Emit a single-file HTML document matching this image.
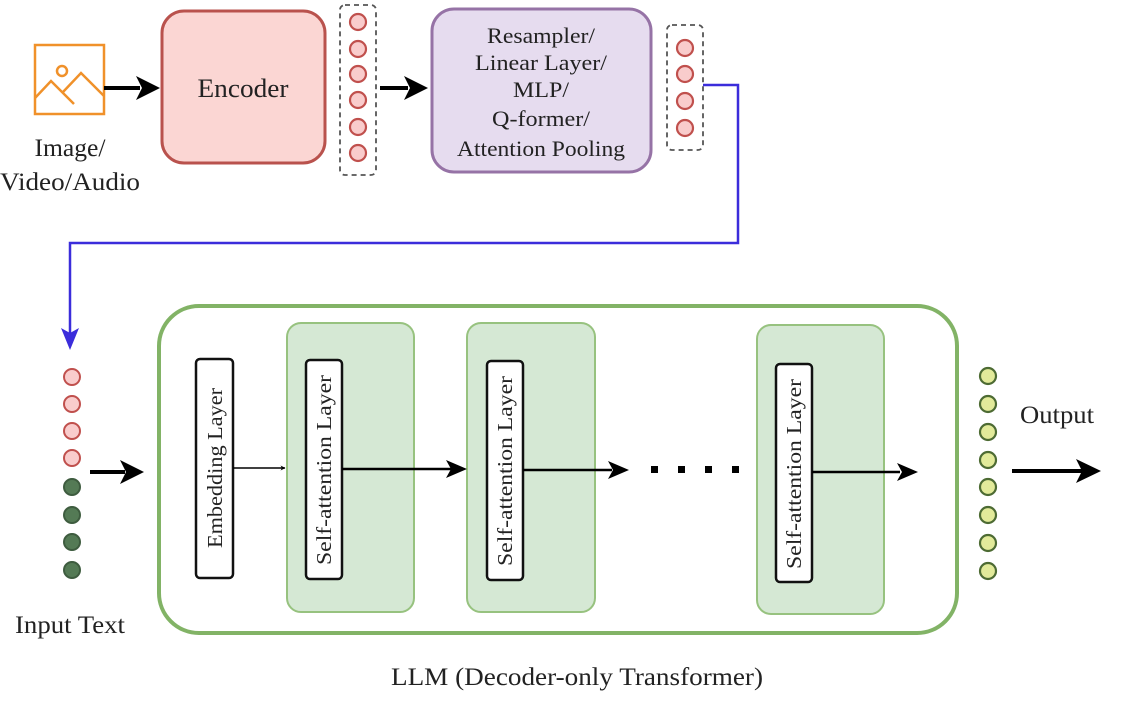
<!DOCTYPE html>
<html><head><meta charset="utf-8"><style>
html,body{margin:0;padding:0;background:#fff;}
svg{display:block;}
text{font-family:"Liberation Serif",serif;fill:#222;}
</style></head><body>
<svg width="1136" height="708" viewBox="0 0 1136 708" xmlns="http://www.w3.org/2000/svg">
<defs>
<marker id="ah" viewBox="0 0 10 10" refX="9" refY="5" markerWidth="5" markerHeight="5" orient="auto" markerUnits="userSpaceOnUse"><path d="M0,0 L10,5 L0,10 L3,5 z" fill="#000"/></marker>
</defs>
<g stroke="#f0912a" stroke-width="2.5" fill="none">
<rect x="35" y="45" width="69" height="69"/>
<circle cx="62" cy="71" r="5"/>
<polyline points="35,98 51,81 74,104"/>
<polyline points="63,92 81,73 104,96"/>
</g>
<text x="70" y="156" font-size="25" text-anchor="middle" textLength="71" lengthAdjust="spacingAndGlyphs">Image/</text>
<text x="70" y="190" font-size="25" text-anchor="middle" textLength="140" lengthAdjust="spacingAndGlyphs">Video/Audio</text>
<line x1="104" y1="88" x2="140" y2="88" stroke="#000" stroke-width="4"/>
<path d="M136,76 L160,88 L136,100 L142,88 z" fill="#000"/>
<rect x="162" y="11" width="163" height="152" rx="22" fill="#fbd6d3" stroke="#b9524d" stroke-width="3"/>
<text x="243" y="97" font-size="26" text-anchor="middle" textLength="91" lengthAdjust="spacingAndGlyphs">Encoder</text>
<rect x="340" y="5" width="36" height="170" rx="5" fill="none" stroke="#555" stroke-width="1.8" stroke-dasharray="5,4"/>
<g fill="#f9cccc" stroke="#c0504d" stroke-width="2.2">
<circle cx="358" cy="22" r="8"/><circle cx="358" cy="49" r="8"/><circle cx="358" cy="74" r="8"/><circle cx="358" cy="100" r="8"/><circle cx="358" cy="127" r="8"/><circle cx="358" cy="153" r="8"/>
</g>
<line x1="380" y1="88" x2="408" y2="88" stroke="#000" stroke-width="4"/>
<path d="M404,76 L428,88 L404,100 L410,88 z" fill="#000"/>
<rect x="432" y="9" width="219" height="163" rx="22" fill="#e6dcef" stroke="#9673a6" stroke-width="3"/>
<g font-size="22" text-anchor="middle">
<text x="541" y="43" textLength="108" lengthAdjust="spacingAndGlyphs">Resampler/</text>
<text x="541" y="70" textLength="132" lengthAdjust="spacingAndGlyphs">Linear Layer/</text>
<text x="541" y="97" textLength="56" lengthAdjust="spacingAndGlyphs">MLP/</text>
<text x="541" y="126" textLength="98" lengthAdjust="spacingAndGlyphs">Q-former/</text>
<text x="541" y="156" textLength="168" lengthAdjust="spacingAndGlyphs">Attention Pooling</text>
</g>
<rect x="667" y="25" width="36" height="125" rx="5" fill="none" stroke="#555" stroke-width="1.8" stroke-dasharray="5,4"/>
<g fill="#f9cccc" stroke="#c0504d" stroke-width="2.2">
<circle cx="685" cy="48" r="8"/><circle cx="685" cy="74" r="8"/><circle cx="685" cy="101" r="8"/><circle cx="685" cy="128" r="8"/>
</g>
<polyline points="703,85 738,85 738,243 70,243 70,335" fill="none" stroke="#3b2ddb" stroke-width="2.5"/>
<path d="M61,328 L70,350 L79,328 L70,333 z" fill="#3b2ddb"/>
<g fill="#f9cccc" stroke="#c0504d" stroke-width="2"><circle cx="72" cy="377" r="8"/><circle cx="72" cy="404" r="8"/><circle cx="72" cy="431" r="8"/><circle cx="72" cy="458" r="8"/></g>
<g fill="#547a55" stroke="#3e5c3f" stroke-width="2"><circle cx="72" cy="487" r="8"/><circle cx="72" cy="515" r="8"/><circle cx="72" cy="542" r="8"/><circle cx="72" cy="570" r="8"/></g>
<text x="70" y="633" font-size="25" text-anchor="middle" textLength="110" lengthAdjust="spacingAndGlyphs">Input Text</text>
<line x1="90" y1="472" x2="125" y2="472" stroke="#000" stroke-width="4"/>
<path d="M120,460 L144,472 L120,484 L126,472 z" fill="#000"/>
<rect x="159" y="306" width="798" height="327" rx="40" fill="#fff" stroke="#82b366" stroke-width="4"/>
<g fill="#d5e8d4" stroke="#97c27f" stroke-width="2">
<rect x="287" y="323" width="127" height="289" rx="14"/>
<rect x="467" y="323" width="128" height="289" rx="14"/>
<rect x="757" y="325" width="127" height="289" rx="14"/>
</g>
<g fill="#fff" stroke="#111" stroke-width="2.5">
<rect x="196" y="359" width="37" height="219" rx="4"/>
<rect x="306" y="360" width="36" height="219" rx="4"/>
<rect x="487" y="361" width="36" height="219" rx="4"/>
<rect x="776" y="364" width="36" height="218" rx="4"/>
</g>
<g font-size="21" text-anchor="middle">
<text transform="translate(222,468) rotate(-90)" textLength="160" lengthAdjust="spacingAndGlyphs">Embedding Layer</text>
<text transform="translate(331,470) rotate(-90)" textLength="190" lengthAdjust="spacingAndGlyphs">Self-attention Layer</text>
<text transform="translate(512,471) rotate(-90)" textLength="190" lengthAdjust="spacingAndGlyphs">Self-attention Layer</text>
<text transform="translate(801,474) rotate(-90)" textLength="190" lengthAdjust="spacingAndGlyphs">Self-attention Layer</text>
</g>
<line x1="233" y1="468" x2="285" y2="468" stroke="#000" stroke-width="1.5" marker-end="url(#ah)"/>
<line x1="342" y1="469" x2="452" y2="469" stroke="#000" stroke-width="2.5"/>
<path d="M446,460 L467,469 L446,478 L451,469 z" fill="#000"/>
<line x1="523" y1="470" x2="612" y2="470" stroke="#000" stroke-width="2.5"/>
<path d="M608,461 L629,470 L608,479 L613,470 z" fill="#000"/>
<g fill="#000"><rect x="651" y="466" width="7" height="7"/><rect x="678" y="466" width="7" height="7"/><rect x="705" y="466" width="7" height="7"/><rect x="732" y="466" width="7" height="7"/></g>
<line x1="812" y1="472" x2="900" y2="472" stroke="#000" stroke-width="2.5"/>
<path d="M897,463 L918,472 L897,481 L902,472 z" fill="#000"/>
<g fill="#e2ea9a" stroke="#4d6b33" stroke-width="2.2">
<circle cx="988" cy="376" r="8"/><circle cx="988" cy="404" r="8"/><circle cx="988" cy="432" r="8"/><circle cx="988" cy="460" r="8"/><circle cx="988" cy="487" r="8"/><circle cx="988" cy="515" r="8"/><circle cx="988" cy="543" r="8"/><circle cx="988" cy="571" r="8"/>
</g>
<text x="1057" y="423" font-size="25" text-anchor="middle" textLength="74" lengthAdjust="spacingAndGlyphs">Output</text>
<line x1="1012" y1="471" x2="1082" y2="471" stroke="#000" stroke-width="4"/>
<path d="M1076,459 L1101,471 L1076,483 L1082,471 z" fill="#000"/>
<text x="577" y="685" font-size="25" text-anchor="middle" textLength="372" lengthAdjust="spacingAndGlyphs">LLM (Decoder-only Transformer)</text>
</svg>
</body></html>
